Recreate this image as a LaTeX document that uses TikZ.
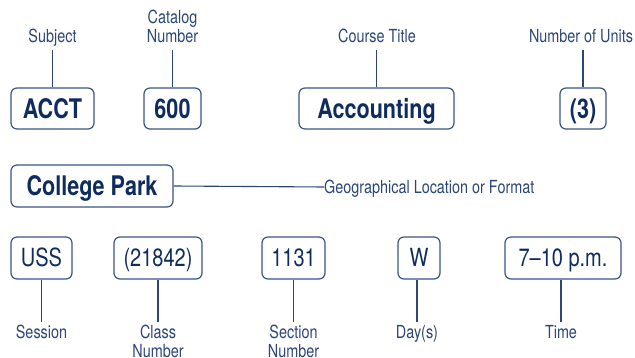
\documentclass[tikz,border=0pt]{standalone}
\usepackage{fontspec}
\setmainfont{TeX Gyre Heros}[FakeStretch=0.80]
\definecolor{navy}{HTML}{0E2D5E}
\definecolor{lblblue}{HTML}{2B4677}
\definecolor{edgeblue}{HTML}{3A5584}
\begin{document}
\begin{tikzpicture}[x=1pt,y=-1pt,
  box/.style={draw=edgeblue, line width=1.2pt, rounded corners=6pt, inner sep=0pt,
    minimum height=41pt, text=navy, text depth=0pt},
  boldbox/.style={box, font=\fontsize{27}{27}\selectfont\bfseries, text height=19.5pt},
  regbox/.style={box, font=\fontsize{25}{25}\selectfont, text height=18pt, minimum height=42pt},
  lbl/.style={inner xsep=0pt, text=lblblue, font=\fontsize{18}{19}\selectfont, align=center},
  toplbl/.style={lbl, anchor=south, inner ysep=7pt, text depth=0pt},
  botlbl/.style={lbl, anchor=north, inner ysep=3pt},
  conn/.style={draw=lblblue, line width=1.1pt}]
\useasboundingbox (0,0) rectangle (635,358);

% row 1
\node[boldbox, minimum width=83pt]  (acct) at (52.5,108.5) {ACCT};
\node[boldbox, minimum width=57pt]  (cat)  at (172.5,108.5) {600};
\node[boldbox, minimum width=155pt] (acc)  at (376.5,108.5) {Accounting};
\node[boldbox, minimum width=46pt]  (unit) at (583,108.5) {(3)};

\node[toplbl] (lsubj) at (52.5,50) {Subject};
\node[toplbl] (lcat)  at (172.5,50) {Catalog\\Number};
\node[toplbl] (lacc)  at (377,50) {Course Title};
\node[toplbl] (lunit) at (581,50) {Number of Units};

\draw[conn] (acct.north) -- (acct.north |- lsubj.south);
\draw[conn] (cat.north) -- (cat.north |- lcat.south);
\draw[conn] (acc.north) -- (acc.north |- lacc.south);
\draw[conn] (unit.north) -- (unit.north |- lunit.south);

% row 2
\node[boldbox, minimum width=162pt, minimum height=42pt] (cp) at (92,186) {College Park};
\node[lbl, anchor=west, inner sep=0pt, text depth=0pt, text height=13pt] (lcp) at (324,187) {Geographical Location or Format};
\draw[conn] (cp.east) -- (lcp.west);

% row 3
\node[regbox, minimum width=61pt]  (uss)  at (41.5,258) {USS};
\node[regbox, minimum width=88pt]  (cls)  at (158,258) {(21842)};
\node[regbox, minimum width=63pt]  (sec)  at (293.5,258) {1131};
\node[regbox, minimum width=42pt]  (day)  at (419,258) {W};
\node[regbox, minimum width=116pt] (time) at (563,258) {7–10 p.m.};

\node[botlbl] (luss)  at (41.5,322) {Session};
\node[botlbl] (lcls)  at (158,322) {Class\\Number};
\node[botlbl] (lsec)  at (293.5,322) {Section\\Number};
\node[botlbl] (lday)  at (417,322) {Day(s)};
\node[botlbl] (ltime) at (561,322) {Time};

\draw[conn] (uss.south) -- (uss.south |- luss.north);
\draw[conn] (cls.south) -- (cls.south |- lcls.north);
\draw[conn] (sec.south) -- (sec.south |- lsec.north);
\draw[conn] (lday.north |- day.south) -- (lday.north);
\draw[conn] (ltime.north |- time.south) -- (ltime.north);
\end{tikzpicture}
\end{document}
